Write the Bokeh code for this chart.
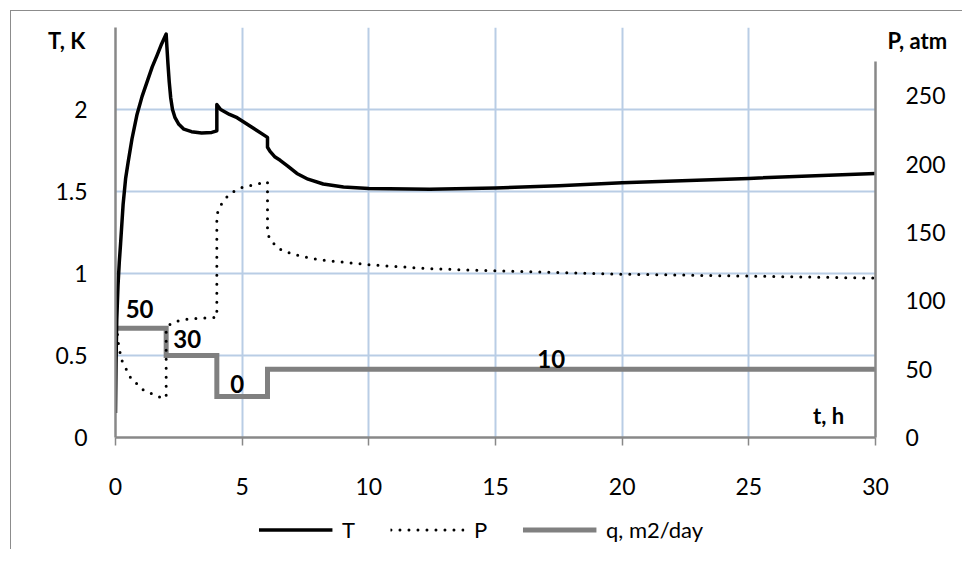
from bokeh.plotting import figure
from bokeh.layouts import column
from bokeh.models import (Range1d, LinearAxis, FixedTicker, Legend, LegendItem, Label)
from bokeh.embed import file_html
from bokeh.resources import INLINE

# ---- data ----
t_T = [0, 0.02, 0.05, 0.1, 0.15, 0.2, 0.3, 0.4, 0.5, 0.65, 0.85, 1.05, 1.25, 1.45, 1.64, 1.82, 2.0,
       2.03, 2.07, 2.12, 2.18, 2.25, 2.35, 2.5, 2.7, 3.0, 3.4, 3.8, 4.0,
       4.0, 4.15, 4.5, 4.8, 5.4, 6.0,
       6.0, 6.1, 6.3, 6.5, 6.8, 7.16, 7.6, 8.2, 9.0, 10.0, 12.4, 15.0, 17.5, 20.0, 25.0, 30.0]
T_val = [0.15, 0.45, 0.72, 0.93, 1.07, 1.18, 1.42, 1.58, 1.68, 1.82, 1.97, 2.08, 2.17, 2.26, 2.33, 2.4, 2.46,
         2.38, 2.28, 2.17, 2.07, 2.0, 1.95, 1.91, 1.88, 1.865, 1.857, 1.86, 1.87,
         2.03, 2.0, 1.97, 1.95, 1.89, 1.83,
         1.77, 1.745, 1.71, 1.69, 1.655, 1.61, 1.575, 1.546, 1.528, 1.519, 1.513, 1.522, 1.535, 1.553, 1.58, 1.61]

t_P = [0, 0.05, 0.13, 0.26, 0.59, 1.05, 1.71, 2.0, 2.0, 2.1, 2.23, 2.6, 3.09, 4.0, 4.0, 4.1, 4.2, 4.4, 4.67,
       5.0, 5.58, 6.0, 6.0, 6.1, 6.18, 6.37, 6.7, 7.36, 8.08, 10.0, 12.4, 15.0, 18.0, 20.0, 25.0, 30.0]
P_val = [95, 80, 66, 56, 44, 35.3, 29.7, 29.2, 78, 82, 84, 86, 87, 88, 163, 168, 171.3, 176, 180,
         183, 185.4, 187, 149, 145.5, 143.4, 139, 136, 132.4, 130, 126.4, 123.5, 122, 120.5, 119.5, 118.1, 116.6]

t_q = [0, 2, 4, 6, 30]
q_plot = [80, 60, 30, 50, 50]
q_labels = ["50", "30", "0", "10"]
q_label_x = [0.95, 2.83, 4.8, 17.2]
q_label_y = [94, 72, 39.5, 57.5]

x_ticks = [0, 5, 10, 15, 20, 25, 30]
T_ticks = [0, 0.5, 1, 1.5, 2]
T_tick_labels = ["0", "0.5", "1", "1.5", "2"]
P_ticks = [0, 50, 100, 150, 200, 250]
series_names = ["T", "P", "q, m2/day"]

FONT = "Lato"
GRID = "#B9CDE5"
AX = "#888888"

p = figure(frame_width=760, frame_height=410, output_backend="svg", toolbar_location=None,
           x_range=Range1d(0, 30), y_range=Range1d(0, 2.5),
           min_border_left=104, min_border_top=16, min_border_right=76, min_border_bottom=72)
p.extra_y_ranges = {"P": Range1d(0, 300)}
p.outline_line_color = None
p.background_fill_color = "white"
p.border_fill_color = "white"

# axes
p.xaxis.ticker = FixedTicker(ticks=x_ticks)
p.yaxis.ticker = FixedTicker(ticks=T_ticks)
p.yaxis.major_label_overrides = {k: v for k, v in zip(T_ticks, T_tick_labels)}

rax = LinearAxis(y_range_name="P", ticker=FixedTicker(ticks=P_ticks), bounds=(0, 275))
p.add_layout(rax, "right")

for ax in (p.xaxis[0], p.yaxis[0], rax):
    ax.axis_line_color = AX
    ax.axis_line_width = 2.5
    ax.minor_tick_line_color = None
    ax.major_label_text_font = FONT
    ax.major_label_text_font_size = "23px"
    ax.major_label_text_color = "black"
    ax.major_tick_line_color = AX
    ax.major_tick_line_width = 1.5
    ax.major_tick_in = 0
p.xaxis.major_tick_out = 8
p.xaxis.major_label_standoff = 32
p.yaxis.major_tick_line_color = None
p.yaxis.major_tick_out = 0
p.yaxis.major_label_standoff = 28
rax.major_tick_out = 10
rax.major_label_standoff = 20

p.xgrid.ticker = FixedTicker(ticks=x_ticks[1:])
p.ygrid.ticker = FixedTicker(ticks=[0.5, 1, 1.5, 2, 2.5])
for g in (p.xgrid[0], p.ygrid[0]):
    g.grid_line_color = GRID
    g.grid_line_width = 2

# series styles
STY_T = dict(line_color="black", line_width=3.5, line_join="round")
STY_P = dict(line_color="black", line_width=3, line_dash="0 9", line_cap="round")
STY_Q = dict(line_color="#808080", line_width=5, line_join="miter")

rq = p.step(t_q, q_plot, mode="after", y_range_name="P", **STY_Q)
rP = p.line(t_P, P_val, y_range_name="P", **STY_P)
rT = p.line(t_T, T_val, **STY_T)

for txt, lx, ly in zip(q_labels, q_label_x, q_label_y):
    p.add_layout(Label(x=lx, y=ly, y_range_name="P", text=txt, text_font=FONT,
                       text_font_style="bold", text_font_size="24px", text_color="black",
                       text_align="center", text_baseline="middle"))

# axis titles
p.add_layout(Label(x=-1.93, y=2.42, text="T, K", text_font=FONT, text_font_style="bold",
                   text_font_size="22px", text_color="black",
                   text_align="center", text_baseline="middle"), "left")
p.add_layout(Label(x=30.47, y=2.42, text="P, atm", text_font=FONT, text_font_style="bold",
                   text_font_size="22px", text_color="black",
                   text_align="left", text_baseline="middle"), "right")
p.add_layout(Label(x=28.15, y=0.135, text="t, h", text_font=FONT, text_font_style="bold",
                   text_font_size="22px", text_color="black",
                   text_align="center", text_baseline="middle"))

# legend strip below the chart (series drawn out of view; only legend keys visible)
p2 = figure(width=968, height=40, output_backend="svg", toolbar_location=None,
            x_axis_type=None, y_axis_type=None, min_border=0,
            x_range=Range1d(1000, 1001), y_range=Range1d(1000, 1001))
p2.outline_line_color = None
p2.grid.visible = False
p2.border_fill_color = "white"
p2.background_fill_color = "white"
lT = p2.line(t_T, T_val, **STY_T)
lP = p2.line(t_P, P_val, **STY_P)
lq = p2.step(t_q, q_plot, mode="after", **STY_Q)
legend = Legend(items=[LegendItem(label=n, renderers=[r]) for n, r in zip(series_names, [lT, lP, lq])],
                orientation="horizontal", location="center")
legend.glyph_width = 74
legend.label_standoff = 10
legend.spacing = 28
legend.border_line_color = None
legend.background_fill_alpha = 0
legend.label_text_font = FONT
legend.label_text_font_size = "22px"
legend.label_text_color = "black"
legend.padding = 2
legend.margin = 0
p2.add_layout(legend)

layout = column(p, p2, spacing=0,
                styles={"border-left": "1px solid #8c8c8c", "border-top": "1px solid #8c8c8c",
                        "margin-left": "10px", "margin-top": "10px"})

open("out.html", "w").write(file_html(layout, INLINE))
